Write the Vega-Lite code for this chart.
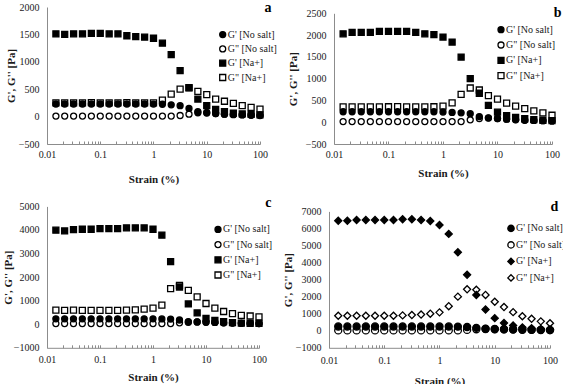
{
  "$schema": "https://vega.github.io/schema/vega-lite/v6.json",
  "background": "white",
  "padding": {"left": 2, "top": 0, "right": 0, "bottom": 0},
  "config": {
    "font": "Liberation Serif",
    "view": {"stroke": null},
    "axis": {
      "labelFont": "Liberation Serif",
      "titleFont": "Liberation Serif",
      "labelFontSize": 10,
      "titleFontSize": 11,
      "titleFontWeight": "bold",
      "labelColor": "#1a1a1a",
      "titleColor": "#1a1a1a",
      "domainColor": "#8c8c8c",
      "grid": false
    },
    "axisY": {"ticks": false, "labelPadding": 8, "minExtent": 30, "maxExtent": 30, "format": "d"},
    "axisX": {"tickColor": "#8c8c8c", "tickSize": -3, "minExtent": 14, "maxExtent": 14, "labelOverlap": false, "labelFlush": false},
    "legend": {
      "orient": "none",
      "title": null,
      "labelFont": "Liberation Serif",
      "labelFontSize": 10,
      "labelColor": "#1a1a1a",
      "symbolSize": 36,
      "symbolStrokeWidth": 1.3,
      "padding": 0,
      "labelOffset": 0
    },
    "title": {"anchor": "end", "frame": "group", "fontSize": 14, "fontWeight": "bold", "font": "Liberation Serif", "color": "black", "baseline": "middle"}
  },
  "data": {
    "values": [
      {"panel": "a", "strain": 0.0147, "gp_ns": 230, "gpp_ns": 10, "gp_na": 1510, "gpp_na": 250},
      {"panel": "a", "strain": 0.0215, "gp_ns": 230, "gpp_ns": 10, "gp_na": 1500, "gpp_na": 250},
      {"panel": "a", "strain": 0.0316, "gp_ns": 230, "gpp_ns": 10, "gp_na": 1510, "gpp_na": 250},
      {"panel": "a", "strain": 0.0464, "gp_ns": 230, "gpp_ns": 10, "gp_na": 1510, "gpp_na": 250},
      {"panel": "a", "strain": 0.0681, "gp_ns": 230, "gpp_ns": 10, "gp_na": 1520, "gpp_na": 255},
      {"panel": "a", "strain": 0.1, "gp_ns": 230, "gpp_ns": 10, "gp_na": 1520, "gpp_na": 250},
      {"panel": "a", "strain": 0.147, "gp_ns": 230, "gpp_ns": 10, "gp_na": 1510, "gpp_na": 250},
      {"panel": "a", "strain": 0.215, "gp_ns": 230, "gpp_ns": 10, "gp_na": 1510, "gpp_na": 250},
      {"panel": "a", "strain": 0.316, "gp_ns": 230, "gpp_ns": 10, "gp_na": 1475, "gpp_na": 255},
      {"panel": "a", "strain": 0.464, "gp_ns": 230, "gpp_ns": 10, "gp_na": 1460, "gpp_na": 250},
      {"panel": "a", "strain": 0.681, "gp_ns": 230, "gpp_ns": 10, "gp_na": 1450, "gpp_na": 250},
      {"panel": "a", "strain": 1, "gp_ns": 228, "gpp_ns": 10, "gp_na": 1430, "gpp_na": 250},
      {"panel": "a", "strain": 1.47, "gp_ns": 225, "gpp_ns": 10, "gp_na": 1340, "gpp_na": 300},
      {"panel": "a", "strain": 2.15, "gp_ns": 215, "gpp_ns": 10, "gp_na": 1130, "gpp_na": 410},
      {"panel": "a", "strain": 3.16, "gp_ns": 200, "gpp_ns": 20, "gp_na": 840, "gpp_na": 500},
      {"panel": "a", "strain": 4.64, "gp_ns": 150, "gpp_ns": 45, "gp_na": 530, "gpp_na": 525},
      {"panel": "a", "strain": 6.81, "gp_ns": 90, "gpp_ns": 70, "gp_na": 320, "gpp_na": 460},
      {"panel": "a", "strain": 10, "gp_ns": 75, "gpp_ns": 65, "gp_na": 200, "gpp_na": 400},
      {"panel": "a", "strain": 14.7, "gp_ns": 55, "gpp_ns": 55, "gp_na": 130, "gpp_na": 320},
      {"panel": "a", "strain": 21.5, "gp_ns": 45, "gpp_ns": 45, "gp_na": 90, "gpp_na": 280},
      {"panel": "a", "strain": 31.6, "gp_ns": 35, "gpp_ns": 40, "gp_na": 65, "gpp_na": 240},
      {"panel": "a", "strain": 46.4, "gp_ns": 30, "gpp_ns": 35, "gp_na": 50, "gpp_na": 200},
      {"panel": "a", "strain": 68.1, "gp_ns": 25, "gpp_ns": 30, "gp_na": 40, "gpp_na": 170},
      {"panel": "a", "strain": 100, "gp_ns": 20, "gpp_ns": 25, "gp_na": 30, "gpp_na": 135},

      {"panel": "b", "strain": 0.0147, "gp_ns": 240, "gpp_ns": 15, "gp_na": 2030, "gpp_na": 350},
      {"panel": "b", "strain": 0.0215, "gp_ns": 240, "gpp_ns": 15, "gp_na": 2060, "gpp_na": 350},
      {"panel": "b", "strain": 0.0316, "gp_ns": 240, "gpp_ns": 15, "gp_na": 2060, "gpp_na": 350},
      {"panel": "b", "strain": 0.0464, "gp_ns": 240, "gpp_ns": 15, "gp_na": 2060, "gpp_na": 350},
      {"panel": "b", "strain": 0.0681, "gp_ns": 240, "gpp_ns": 15, "gp_na": 2085, "gpp_na": 350},
      {"panel": "b", "strain": 0.1, "gp_ns": 240, "gpp_ns": 15, "gp_na": 2085, "gpp_na": 355},
      {"panel": "b", "strain": 0.147, "gp_ns": 240, "gpp_ns": 15, "gp_na": 2085, "gpp_na": 360},
      {"panel": "b", "strain": 0.215, "gp_ns": 240, "gpp_ns": 15, "gp_na": 2085, "gpp_na": 350},
      {"panel": "b", "strain": 0.316, "gp_ns": 240, "gpp_ns": 15, "gp_na": 2060, "gpp_na": 350},
      {"panel": "b", "strain": 0.464, "gp_ns": 240, "gpp_ns": 15, "gp_na": 2030, "gpp_na": 350},
      {"panel": "b", "strain": 0.681, "gp_ns": 240, "gpp_ns": 15, "gp_na": 2010, "gpp_na": 355},
      {"panel": "b", "strain": 1, "gp_ns": 235, "gpp_ns": 15, "gp_na": 1955, "gpp_na": 370},
      {"panel": "b", "strain": 1.47, "gp_ns": 225, "gpp_ns": 15, "gp_na": 1840, "gpp_na": 445},
      {"panel": "b", "strain": 2.15, "gp_ns": 215, "gpp_ns": 15, "gp_na": 1495, "gpp_na": 640},
      {"panel": "b", "strain": 3.16, "gp_ns": 195, "gpp_ns": 55, "gp_na": 1000, "gpp_na": 785},
      {"panel": "b", "strain": 4.64, "gp_ns": 130, "gpp_ns": 85, "gp_na": 665, "gpp_na": 740},
      {"panel": "b", "strain": 6.81, "gp_ns": 100, "gpp_ns": 95, "gp_na": 385, "gpp_na": 610},
      {"panel": "b", "strain": 10, "gp_ns": 85, "gpp_ns": 85, "gp_na": 230, "gpp_na": 530},
      {"panel": "b", "strain": 14.7, "gp_ns": 70, "gpp_ns": 70, "gp_na": 150, "gpp_na": 440},
      {"panel": "b", "strain": 21.5, "gp_ns": 55, "gpp_ns": 60, "gp_na": 110, "gpp_na": 370},
      {"panel": "b", "strain": 31.6, "gp_ns": 45, "gpp_ns": 50, "gp_na": 80, "gpp_na": 310},
      {"panel": "b", "strain": 46.4, "gp_ns": 40, "gpp_ns": 40, "gp_na": 60, "gpp_na": 260},
      {"panel": "b", "strain": 68.1, "gp_ns": 35, "gpp_ns": 35, "gp_na": 45, "gpp_na": 215},
      {"panel": "b", "strain": 100, "gp_ns": 30, "gpp_ns": 30, "gp_na": 35, "gpp_na": 160},

      {"panel": "c", "strain": 0.0147, "gp_ns": 230, "gpp_ns": 30, "gp_na": 3990, "gpp_na": 600},
      {"panel": "c", "strain": 0.0215, "gp_ns": 230, "gpp_ns": 30, "gp_na": 3960, "gpp_na": 590},
      {"panel": "c", "strain": 0.0316, "gp_ns": 230, "gpp_ns": 30, "gp_na": 4015, "gpp_na": 600},
      {"panel": "c", "strain": 0.0464, "gp_ns": 230, "gpp_ns": 30, "gp_na": 4030, "gpp_na": 590},
      {"panel": "c", "strain": 0.0681, "gp_ns": 230, "gpp_ns": 30, "gp_na": 4030, "gpp_na": 590},
      {"panel": "c", "strain": 0.1, "gp_ns": 230, "gpp_ns": 30, "gp_na": 4060, "gpp_na": 590},
      {"panel": "c", "strain": 0.147, "gp_ns": 230, "gpp_ns": 30, "gp_na": 4060, "gpp_na": 590},
      {"panel": "c", "strain": 0.215, "gp_ns": 230, "gpp_ns": 30, "gp_na": 4060, "gpp_na": 590},
      {"panel": "c", "strain": 0.316, "gp_ns": 230, "gpp_ns": 30, "gp_na": 4090, "gpp_na": 600},
      {"panel": "c", "strain": 0.464, "gp_ns": 230, "gpp_ns": 30, "gp_na": 4090, "gpp_na": 610},
      {"panel": "c", "strain": 0.681, "gp_ns": 230, "gpp_ns": 30, "gp_na": 4090, "gpp_na": 640},
      {"panel": "c", "strain": 1, "gp_ns": 230, "gpp_ns": 30, "gp_na": 4030, "gpp_na": 680},
      {"panel": "c", "strain": 1.47, "gp_ns": 225, "gpp_ns": 30, "gp_na": 3780, "gpp_na": 810},
      {"panel": "c", "strain": 2.15, "gp_ns": 220, "gpp_ns": 30, "gp_na": 2660, "gpp_na": 1510},
      {"panel": "c", "strain": 3.16, "gp_ns": 180, "gpp_ns": 60, "gp_na": 1580, "gpp_na": 1650},
      {"panel": "c", "strain": 4.64, "gp_ns": 110, "gpp_ns": 85, "gp_na": 860, "gpp_na": 1440},
      {"panel": "c", "strain": 6.81, "gp_ns": 100, "gpp_ns": 95, "gp_na": 480, "gpp_na": 1160},
      {"panel": "c", "strain": 10, "gp_ns": 90, "gpp_ns": 85, "gp_na": 250, "gpp_na": 880},
      {"panel": "c", "strain": 14.7, "gp_ns": 75, "gpp_ns": 75, "gp_na": 160, "gpp_na": 680},
      {"panel": "c", "strain": 21.5, "gp_ns": 60, "gpp_ns": 60, "gp_na": 110, "gpp_na": 540},
      {"panel": "c", "strain": 31.6, "gp_ns": 50, "gpp_ns": 50, "gp_na": 70, "gpp_na": 450},
      {"panel": "c", "strain": 46.4, "gp_ns": 40, "gpp_ns": 40, "gp_na": 50, "gpp_na": 380},
      {"panel": "c", "strain": 68.1, "gp_ns": 35, "gpp_ns": 35, "gp_na": 40, "gpp_na": 350},
      {"panel": "c", "strain": 100, "gp_ns": 30, "gpp_ns": 30, "gp_na": 35, "gpp_na": 310},

      {"panel": "d", "strain": 0.0147, "gp_ns": 250, "gpp_ns": 20, "gp_na": 6450, "gpp_na": 880},
      {"panel": "d", "strain": 0.0215, "gp_ns": 250, "gpp_ns": 20, "gp_na": 6450, "gpp_na": 880},
      {"panel": "d", "strain": 0.0316, "gp_ns": 250, "gpp_ns": 20, "gp_na": 6500, "gpp_na": 880},
      {"panel": "d", "strain": 0.0464, "gp_ns": 250, "gpp_ns": 20, "gp_na": 6500, "gpp_na": 880},
      {"panel": "d", "strain": 0.0681, "gp_ns": 250, "gpp_ns": 20, "gp_na": 6500, "gpp_na": 880},
      {"panel": "d", "strain": 0.1, "gp_ns": 250, "gpp_ns": 20, "gp_na": 6500, "gpp_na": 880},
      {"panel": "d", "strain": 0.147, "gp_ns": 250, "gpp_ns": 20, "gp_na": 6500, "gpp_na": 880},
      {"panel": "d", "strain": 0.215, "gp_ns": 250, "gpp_ns": 20, "gp_na": 6540, "gpp_na": 900},
      {"panel": "d", "strain": 0.316, "gp_ns": 250, "gpp_ns": 20, "gp_na": 6540, "gpp_na": 920},
      {"panel": "d", "strain": 0.464, "gp_ns": 250, "gpp_ns": 20, "gp_na": 6500, "gpp_na": 950},
      {"panel": "d", "strain": 0.681, "gp_ns": 250, "gpp_ns": 20, "gp_na": 6440, "gpp_na": 1000},
      {"panel": "d", "strain": 1, "gp_ns": 250, "gpp_ns": 20, "gp_na": 6200, "gpp_na": 1080},
      {"panel": "d", "strain": 1.47, "gp_ns": 250, "gpp_ns": 20, "gp_na": 5680, "gpp_na": 1440},
      {"panel": "d", "strain": 2.15, "gp_ns": 240, "gpp_ns": 20, "gp_na": 4600, "gpp_na": 2000},
      {"panel": "d", "strain": 3.16, "gp_ns": 220, "gpp_ns": 50, "gp_na": 3280, "gpp_na": 2430},
      {"panel": "d", "strain": 4.64, "gp_ns": 170, "gpp_ns": 90, "gp_na": 2100, "gpp_na": 2400},
      {"panel": "d", "strain": 6.81, "gp_ns": 120, "gpp_ns": 100, "gp_na": 1250, "gpp_na": 2100},
      {"panel": "d", "strain": 10, "gp_ns": 100, "gpp_ns": 90, "gp_na": 740, "gpp_na": 1700},
      {"panel": "d", "strain": 14.7, "gp_ns": 90, "gpp_ns": 80, "gp_na": 450, "gpp_na": 1390},
      {"panel": "d", "strain": 21.5, "gp_ns": 80, "gpp_ns": 70, "gp_na": 310, "gpp_na": 1090},
      {"panel": "d", "strain": 31.6, "gp_ns": 70, "gpp_ns": 60, "gp_na": 200, "gpp_na": 850},
      {"panel": "d", "strain": 46.4, "gp_ns": 60, "gpp_ns": 50, "gp_na": 150, "gpp_na": 700},
      {"panel": "d", "strain": 68.1, "gp_ns": 50, "gpp_ns": 40, "gp_na": 110, "gpp_na": 550},
      {"panel": "d", "strain": 100, "gp_ns": 40, "gpp_ns": 35, "gp_na": 80, "gpp_na": 440}
    ]
  },
  "spacing": 11.4,
  "resolve": {
    "scale": {"shape": "independent", "fill": "independent", "stroke": "independent"},
    "legend": {"shape": "independent", "fill": "independent", "stroke": "independent"}
  },
  "vconcat": [
    {
      "spacing": 9,
      "resolve": {
        "scale": {"shape": "independent", "fill": "independent", "stroke": "independent"},
        "legend": {"shape": "independent", "fill": "independent", "stroke": "independent"}
      },
      "hconcat": [
        {
          "width": 213,
          "height": 137,
          "title": {"text": "a", "offset": -12.5, "dx": 11.5},
          "transform": [
            {"filter": "datum.panel == 'a'"},
            {"fold": ["gp_ns", "gpp_ns", "gp_na", "gpp_na"], "as": ["series", "value"]}
          ],
          "mark": {"type": "point", "strokeWidth": 1.3, "size": 36, "opacity": 1},
          "encoding": {
            "x": {
              "field": "strain", "type": "quantitative",
              "scale": {"type": "log", "domain": [0.01, 100]},
              "axis": {
                "title": "Strain (%)", "titlePadding": 15, "labelPadding": 8.5, "format": "~g",
                "values": [0.01, 0.02, 0.03, 0.04, 0.05, 0.06, 0.07, 0.08, 0.09, 0.1, 0.2, 0.3, 0.4, 0.5, 0.6, 0.7, 0.8, 0.9, 1, 2, 3, 4, 5, 6, 7, 8, 9, 10, 20, 30, 40, 50, 60, 70, 80, 90, 100],
                "labelExpr": "indexof([0.01, 0.1, 1, 10, 100], datum.value) >= 0 ? datum.label : ''"
              }
            },
            "y": {
              "field": "value", "type": "quantitative",
              "scale": {"domain": [-500, 2000], "nice": false, "zero": false},
              "axis": {"title": "G', G'' [Pa]", "values": [-500, 0, 500, 1000, 1500, 2000], "titlePadding": 1}
            },
            "shape": {
              "field": "series", "type": "nominal",
              "scale": {"domain": ["gp_ns", "gpp_ns", "gp_na", "gpp_na"], "range": ["circle", "circle", "square", "square"]},
              "legend": {"legendX": 170.7, "legendY": 22.6, "rowPadding": 2.3, "labelExpr": "datum.label == 'gp_ns' ? \"G' [No salt]\" : datum.label == 'gpp_ns' ? 'G\" [No salt]' : datum.label == 'gp_na' ? \"G' [Na+]\" : 'G\" [Na+]'"}
            },
            "fill": {
              "field": "series", "type": "nominal",
              "scale": {"domain": ["gp_ns", "gpp_ns", "gp_na", "gpp_na"], "range": ["black", "transparent", "black", "transparent"]}
            },
            "stroke": {
              "field": "series", "type": "nominal",
              "scale": {"domain": ["gp_ns", "gpp_ns", "gp_na", "gpp_na"], "range": ["black", "black", "black", "black"]}
            }
          }
        },
        {
          "width": 218,
          "height": 137,
          "title": {"text": "b", "offset": -12.6, "dx": 9.5},
          "transform": [
            {"filter": "datum.panel == 'b'"},
            {"fold": ["gp_ns", "gpp_ns", "gp_na", "gpp_na"], "as": ["series", "value"]}
          ],
          "mark": {"type": "point", "strokeWidth": 1.3, "size": 36, "opacity": 1},
          "encoding": {
            "x": {
              "field": "strain", "type": "quantitative",
              "scale": {"type": "log", "domain": [0.01, 100]},
              "axis": {
                "title": "Strain (%)", "titlePadding": 9, "labelPadding": 8.5, "format": "~g",
                "values": [0.01, 0.02, 0.03, 0.04, 0.05, 0.06, 0.07, 0.08, 0.09, 0.1, 0.2, 0.3, 0.4, 0.5, 0.6, 0.7, 0.8, 0.9, 1, 2, 3, 4, 5, 6, 7, 8, 9, 10, 20, 30, 40, 50, 60, 70, 80, 90, 100],
                "labelExpr": "indexof([0.01, 0.1, 1, 10, 100], datum.value) >= 0 ? datum.label : ''"
              }
            },
            "y": {
              "field": "value", "type": "quantitative",
              "scale": {"domain": [-500, 2500], "nice": false, "zero": false, "range": [137, 6.3]},
              "axis": {"title": "G', G'' [Pa]", "values": [-500, 0, 500, 1000, 1500, 2000, 2500], "titlePadding": 5.5}
            },
            "shape": {
              "field": "series", "type": "nominal",
              "scale": {"domain": ["gp_ns", "gpp_ns", "gp_na", "gpp_na"], "range": ["circle", "circle", "square", "square"]},
              "legend": {"legendX": 162, "legendY": 17.7, "rowPadding": 3.3, "labelExpr": "datum.label == 'gp_ns' ? \"G' [No salt]\" : datum.label == 'gpp_ns' ? 'G\" [No salt]' : datum.label == 'gp_na' ? \"G' [Na+]\" : 'G\" [Na+]'"}
            },
            "fill": {
              "field": "series", "type": "nominal",
              "scale": {"domain": ["gp_ns", "gpp_ns", "gp_na", "gpp_na"], "range": ["black", "transparent", "black", "transparent"]}
            },
            "stroke": {
              "field": "series", "type": "nominal",
              "scale": {"domain": ["gp_ns", "gpp_ns", "gp_na", "gpp_na"], "range": ["black", "black", "black", "black"]}
            }
          }
        }
      ]
    },
    {
      "spacing": 9,
      "resolve": {
        "scale": {"shape": "independent", "fill": "independent", "stroke": "independent"},
        "legend": {"shape": "independent", "fill": "independent", "stroke": "independent"}
      },
      "hconcat": [
        {
          "width": 212,
          "height": 141.4,
          "title": {"text": "c", "offset": -8.5, "dx": 12.5},
          "transform": [
            {"filter": "datum.panel == 'c'"},
            {"fold": ["gp_ns", "gpp_ns", "gp_na", "gpp_na"], "as": ["series", "value"]}
          ],
          "mark": {"type": "point", "strokeWidth": 1.3, "size": 36, "opacity": 1},
          "encoding": {
            "x": {
              "field": "strain", "type": "quantitative",
              "scale": {"type": "log", "domain": [0.01, 100]},
              "axis": {
                "title": "Strain (%)", "titlePadding": 9.3, "labelPadding": 9.5, "format": "~g",
                "values": [0.01, 0.02, 0.03, 0.04, 0.05, 0.06, 0.07, 0.08, 0.09, 0.1, 0.2, 0.3, 0.4, 0.5, 0.6, 0.7, 0.8, 0.9, 1, 2, 3, 4, 5, 6, 7, 8, 9, 10, 20, 30, 40, 50, 60, 70, 80, 90, 100],
                "labelExpr": "indexof([0.01, 0.1, 1, 10, 100], datum.value) >= 0 ? datum.label : ''"
              }
            },
            "y": {
              "field": "value", "type": "quantitative",
              "scale": {"domain": [-1000, 5000], "nice": false, "zero": false},
              "axis": {"title": "G', G'' [Pa]", "values": [-1000, 0, 1000, 2000, 3000, 4000, 5000], "titlePadding": 3.5}
            },
            "shape": {
              "field": "series", "type": "nominal",
              "scale": {"domain": ["gp_ns", "gpp_ns", "gp_na", "gpp_na"], "range": ["circle", "circle", "square", "square"]},
              "legend": {"legendX": 166, "legendY": 18, "rowPadding": 3.2, "labelExpr": "datum.label == 'gp_ns' ? \"G' [No salt]\" : datum.label == 'gpp_ns' ? 'G\" [No salt]' : datum.label == 'gp_na' ? \"G' [Na+]\" : 'G\" [Na+]'"}
            },
            "fill": {
              "field": "series", "type": "nominal",
              "scale": {"domain": ["gp_ns", "gpp_ns", "gp_na", "gpp_na"], "range": ["black", "transparent", "black", "transparent"]}
            },
            "stroke": {
              "field": "series", "type": "nominal",
              "scale": {"domain": ["gp_ns", "gpp_ns", "gp_na", "gpp_na"], "range": ["black", "black", "black", "black"]}
            }
          }
        },
        {
          "width": 221,
          "height": 141.4,
          "title": {"text": "d", "offset": -7.5, "dx": 8.2},
          "transform": [
            {"filter": "datum.panel == 'd'"},
            {"fold": ["gp_ns", "gpp_ns", "gp_na", "gpp_na"], "as": ["series", "value"]}
          ],
          "mark": {"type": "point", "strokeWidth": 1.3, "size": 50, "opacity": 1},
          "encoding": {
            "x": {
              "field": "strain", "type": "quantitative",
              "scale": {"type": "log", "domain": [0.01, 100]},
              "axis": {
                "title": "Strain (%)", "titlePadding": 13.3, "labelPadding": 10.5, "format": "~g",
                "values": [0.01, 0.02, 0.03, 0.04, 0.05, 0.06, 0.07, 0.08, 0.09, 0.1, 0.2, 0.3, 0.4, 0.5, 0.6, 0.7, 0.8, 0.9, 1, 2, 3, 4, 5, 6, 7, 8, 9, 10, 20, 30, 40, 50, 60, 70, 80, 90, 100],
                "labelExpr": "indexof([0.01, 0.1, 1, 10, 100], datum.value) >= 0 ? datum.label : ''"
              }
            },
            "y": {
              "field": "value", "type": "quantitative",
              "scale": {"domain": [-1000, 7000], "nice": false, "zero": false, "range": [141.4, 5]},
              "axis": {"title": "G', G'' [Pa]", "values": [-1000, 0, 1000, 2000, 3000, 4000, 5000, 6000, 7000], "titlePadding": 5.5}
            },
            "shape": {
              "field": "series", "type": "nominal",
              "scale": {"domain": ["gp_ns", "gpp_ns", "gp_na", "gpp_na"], "range": ["circle", "circle", "diamond", "diamond"]},
              "legend": {"legendX": 177, "legendY": 17, "rowPadding": 4.5, "symbolSize": 40, "labelExpr": "datum.label == 'gp_ns' ? \"G' [No salt]\" : datum.label == 'gpp_ns' ? 'G\" [No salt]' : datum.label == 'gp_na' ? \"G' [Na+]\" : 'G\" [Na+]'"}
            },
            "fill": {
              "field": "series", "type": "nominal",
              "scale": {"domain": ["gp_ns", "gpp_ns", "gp_na", "gpp_na"], "range": ["black", "transparent", "black", "transparent"]}
            },
            "stroke": {
              "field": "series", "type": "nominal",
              "scale": {"domain": ["gp_ns", "gpp_ns", "gp_na", "gpp_na"], "range": ["black", "black", "black", "black"]}
            }
          }
        }
      ]
    }
  ]
}
